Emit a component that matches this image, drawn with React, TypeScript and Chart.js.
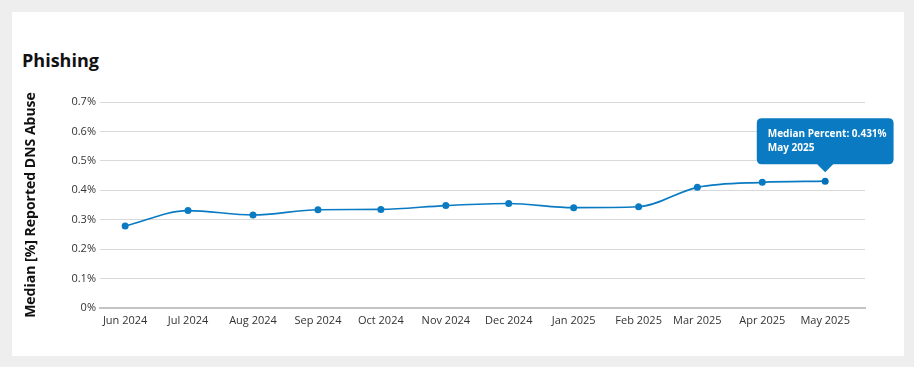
import React, { useEffect, useRef } from "react";
import { Chart, registerables } from "chart.js";

Chart.register(...registerables);

const monthDates = [
  "2024-06-01", "2024-07-01", "2024-08-01", "2024-09-01", "2024-10-01", "2024-11-01",
  "2024-12-01", "2025-01-01", "2025-02-01", "2025-03-01", "2025-04-01", "2025-05-01",
];
const monthLabels = [
  "Jun 2024", "Jul 2024", "Aug 2024", "Sep 2024", "Oct 2024", "Nov 2024",
  "Dec 2024", "Jan 2025", "Feb 2025", "Mar 2025", "Apr 2025", "May 2025",
];
const medianPercent = [0.279, 0.331, 0.316, 0.334, 0.335, 0.348, 0.355, 0.341, 0.344, 0.41, 0.427, 0.431];

const DAY = 86400000;
const base = Date.parse(monthDates[0]);
const xDays = monthDates.map((d) => Math.round((Date.parse(d) - base) / DAY));

const FONT = "'Open Sans', 'Noto Sans', sans-serif";
const BLUE = "#0a7bc2";

export default function App() {
  const ref = useRef<HTMLCanvasElement | null>(null);

  useEffect(() => {
    if (!ref.current) return;
    const chart = new Chart(ref.current, {
      type: "line",
      data: {
        datasets: [
          {
            label: "Median Percent",
            data: xDays.map((x, i) => ({ x, y: medianPercent[i] })),
            borderColor: BLUE,
            backgroundColor: BLUE,
            borderWidth: 1.6,
            pointRadius: 3.5,
            pointHoverRadius: 3.5,
            pointBorderWidth: 0,
            pointHoverBorderWidth: 0,
            pointBackgroundColor: BLUE,
            pointBorderColor: BLUE,
            tension: 0.4,
            cubicInterpolationMode: "monotone",
          },
        ],
      },
      options: {
        animation: false,
        responsive: false,
        layout: { padding: { top: 17, right: 39, bottom: 7, left: 0 } },
        plugins: {
          legend: { display: false },
          tooltip: {
            enabled: true,
            backgroundColor: BLUE,
            displayColors: false,
            yAlign: "bottom",
            xAlign: "center",
            caretSize: 8,
            caretPadding: 9,
            cornerRadius: 5,
            padding: { top: 10, bottom: 10, left: 11, right: 7 },
            titleFont: { family: FONT, size: 10, weight: "bold" },
            bodyFont: { family: FONT, size: 10, weight: "bold" },
            titleMarginBottom: 2,
            titleColor: "#ffffff",
            bodyColor: "#ffffff",
            callbacks: {
              title: (items: any) =>
                "Median Percent: " + medianPercent[items[0].dataIndex].toFixed(3) + "%",
              label: (item: any) => monthLabels[item.dataIndex],
            },
          },
        },
        scales: {
          x: {
            type: "linear",
            min: xDays[0] - 12,
            max: xDays[xDays.length - 1] + 19,
            grid: { display: false, drawTicks: false },
            border: { display: true, color: "#c4c4c4", width: 2 },
            afterBuildTicks: (scale: any) => {
              scale.ticks = xDays.map((v) => ({ value: v }));
            },
            afterFit: (scale: any) => {
              scale.height = 30;
            },
            ticks: {
              autoSkip: false,
              maxRotation: 0,
              minRotation: 0,
              padding: 6,
              color: "#333333",
              font: { family: FONT, size: 11 },
              callback: (v: any) => {
                const i = xDays.indexOf(v);
                return i >= 0 ? monthLabels[i] : "";
              },
            },
          },
          y: {
            min: 0,
            max: 0.7,
            grid: { color: "#d9d9d9", drawTicks: false, lineWidth: 1 },
            border: { display: false },
            afterFit: (scale: any) => {
              scale.width = 88;
            },
            ticks: {
              stepSize: 0.1,
              padding: 4,
              color: "#333333",
              font: { family: FONT, size: 11 },
              callback: (v: any) => (v === 0 ? "0%" : Number(v).toFixed(1) + "%"),
            },
            title: {
              display: true,
              text: "Median [%] Reported DNS Abuse",
              color: "#111111",
              font: { family: FONT, size: 14, weight: "bold" },
              padding: { top: 11, bottom: 0 },
            },
          },
        },
      },
    });

    const idx = medianPercent.length - 1;
    const el: any = chart.getDatasetMeta(0).data[idx];
    chart.setActiveElements([{ datasetIndex: 0, index: idx }]);
    chart.tooltip!.setActiveElements([{ datasetIndex: 0, index: idx }], { x: el.x, y: el.y });
    chart.update();

    return () => chart.destroy();
  }, []);

  return (
    <div style={{ position: "fixed", inset: 0, background: "#eeeeee", fontFamily: FONT }}>
      <div
        style={{
          position: "absolute",
          left: 12,
          top: 12,
          width: 892,
          height: 344,
          background: "#ffffff",
        }}
      >
        <div
          style={{
            position: "absolute",
            left: 10,
            top: 34,
            fontSize: 18,
            fontWeight: 700,
            color: "#111111",
            lineHeight: "28px",
            whiteSpace: "nowrap",
          }}
        >
          Phishing
        </div>
        <canvas
          ref={ref}
          width={892}
          height={260}
          style={{ position: "absolute", left: 0, top: 73, width: 892, height: 260 }}
        />
      </div>
    </div>
  );
}
